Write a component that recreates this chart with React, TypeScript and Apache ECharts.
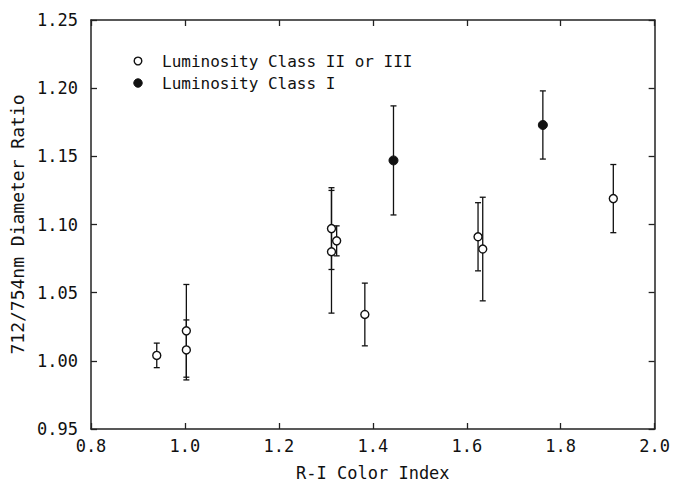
import React, { useEffect, useRef } from "react";
import * as echarts from "echarts";

// Luminosity Class II or III (open circles)
const classIIIx = [0.94, 1.003, 1.003, 1.312, 1.312, 1.323, 1.383, 1.624, 1.634, 1.912];
const classIIIy = [1.004, 1.022, 1.008, 1.097, 1.08, 1.088, 1.034, 1.091, 1.082, 1.119];
const classIIIerr = [0.009, 0.034, 0.022, 0.03, 0.045, 0.011, 0.023, 0.025, 0.038, 0.025];

// Luminosity Class I (filled circles)
const classIx = [1.444, 1.762];
const classIy = [1.147, 1.173];
const classIerr = [0.04, 0.025];

const legendLabels = ["Luminosity Class II or III", "Luminosity Class I"];
const xTitle = "R-I Color Index";
const yTitle = "712/754nm Diameter Ratio";

const FONT = '"DejaVu Sans Mono", "DejaVu Sans", sans-serif';
const INK = "#111";

export default function App() {
  const ref = useRef<HTMLDivElement>(null);

  useEffect(() => {
    if (!ref.current) return;
    const chart = echarts.init(ref.current, undefined, { renderer: "svg" });

    const openPts = classIIIx.map((x, i) => [x, classIIIy[i]]);
    const filledPts = classIx.map((x, i) => [x, classIy[i]]);
    const errPts = [
      ...classIIIx.map((x, i) => [x, classIIIy[i], classIIIerr[i]]),
      ...classIx.map((x, i) => [x, classIy[i], classIerr[i]]),
    ];

    const axisLine = { show: true, lineStyle: { color: "#222", width: 1.5 } };
    const axisTick = { show: true, inside: true, length: 6, lineStyle: { color: "#222", width: 1.3 } };

    chart.setOption({
      animation: false,
      backgroundColor: "#fff",
      grid: { left: 91, top: 20, right: 17, bottom: 61, containLabel: false },
      xAxis: [
        {
          type: "value",
          min: 0.8,
          max: 2.0,
          interval: 0.2,
          position: "bottom",
          axisLine,
          axisTick,
          splitLine: { show: false },
          axisLabel: {
            margin: 8,
            fontFamily: FONT,
            fontSize: 17,
            color: INK,
            formatter: (v: number) => v.toFixed(1),
          },
          name: xTitle,
          nameLocation: "middle",
          nameGap: 35,
          nameTextStyle: { fontFamily: FONT, fontSize: 17, color: INK },
        },
        {
          type: "value",
          min: 0.8,
          max: 2.0,
          interval: 0.2,
          position: "top",
          axisLine,
          axisTick,
          splitLine: { show: false },
          axisLabel: { show: false },
        },
      ],
      yAxis: [
        {
          type: "value",
          min: 0.95,
          max: 1.25,
          interval: 0.05,
          position: "left",
          axisLine,
          axisTick,
          splitLine: { show: false },
          axisLabel: {
            margin: 13,
            fontFamily: FONT,
            fontSize: 17,
            color: INK,
            formatter: (v: number) => v.toFixed(2),
          },
          name: yTitle,
          nameLocation: "middle",
          nameGap: 64,
          nameTextStyle: { fontFamily: FONT, fontSize: 18, color: INK },
        },
        {
          type: "value",
          min: 0.95,
          max: 1.25,
          interval: 0.05,
          position: "right",
          axisLine,
          axisTick,
          splitLine: { show: false },
          axisLabel: { show: false },
        },
      ],
      graphic: [
        {
          type: "circle",
          shape: { cx: 138, cy: 61, r: 3.8 },
          style: { fill: "#fff", stroke: INK, lineWidth: 1.4 },
        },
        {
          type: "text",
          x: 162,
          y: 61,
          style: {
            text: legendLabels[0],
            fontFamily: FONT,
            fontSize: 16,
            fill: INK,
            align: "left",
            verticalAlign: "middle",
          },
        },
        {
          type: "circle",
          shape: { cx: 138, cy: 83, r: 4.2 },
          style: { fill: INK, stroke: INK, lineWidth: 1 },
        },
        {
          type: "text",
          x: 162,
          y: 83,
          style: {
            text: legendLabels[1],
            fontFamily: FONT,
            fontSize: 16,
            fill: INK,
            align: "left",
            verticalAlign: "middle",
          },
        },
      ],
      series: [
        {
          type: "custom",
          name: "error",
          xAxisIndex: 0,
          yAxisIndex: 0,
          encode: { x: 0, y: 1 },
          data: errPts,
          z: 2,
          renderItem: (params: any, api: any) => {
            const x = api.value(0);
            const y = api.value(1);
            const e = api.value(2);
            const top = api.coord([x, y + e]);
            const bot = api.coord([x, y - e]);
            const w = 3;
            const style = { stroke: INK, lineWidth: 1.3 };
            return {
              type: "group",
              children: [
                { type: "line", shape: { x1: top[0], y1: top[1], x2: bot[0], y2: bot[1] }, style },
                { type: "line", shape: { x1: top[0] - w, y1: top[1], x2: top[0] + w, y2: top[1] }, style },
                { type: "line", shape: { x1: bot[0] - w, y1: bot[1], x2: bot[0] + w, y2: bot[1] }, style },
              ],
            };
          },
        },
        {
          type: "scatter",
          name: legendLabels[0],
          xAxisIndex: 0,
          yAxisIndex: 0,
          data: openPts,
          symbol: "circle",
          symbolSize: 8,
          z: 5,
          itemStyle: { color: "#fff", borderColor: INK, borderWidth: 1.4, opacity: 1 },
        },
        {
          type: "scatter",
          name: legendLabels[1],
          xAxisIndex: 0,
          yAxisIndex: 0,
          data: filledPts,
          symbol: "circle",
          symbolSize: 9,
          z: 5,
          itemStyle: { color: INK, borderColor: INK, borderWidth: 1, opacity: 1 },
        },
      ],
    });

    return () => chart.dispose();
  }, []);

  return (
    <div
      ref={ref}
      style={{ position: "fixed", left: 0, top: 0, width: 673, height: 490, background: "#fff" }}
    />
  );
}
